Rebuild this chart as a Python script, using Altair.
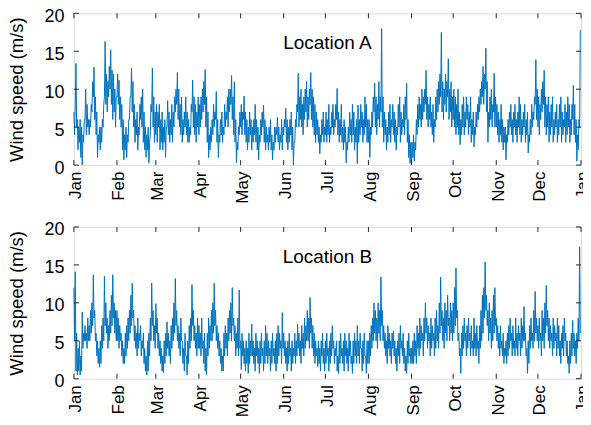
import altair as alt
import pandas as pd

# ---- Data: wind speed (m/s), two readings per day, listed month by month ----
YEAR = 2019

a_jan = [7, 4, 8, 13.4, 5, 6, 2, 5, 3, 6, 1, 5, 0, 4, 3, 6, 6, 10, 4, 8, 5, 6, 4, 6, 5, 8, 7, 11, 9, 12.9, 6, 9,
         4, 7, 1, 4, 3, 5, 2, 5, 3, 6, 5, 8, 9, 16.3, 8, 12, 7, 11, 9, 13, 10, 15.2, 8, 12.5, 6, 12, 7, 10, 5, 9]
a_feb = [9, 12, 8, 11.2, 6, 9, 5, 8, 2, 6, 0.7, 4, 2, 5, 1, 4, 3, 6, 6, 9, 9, 12.8, 7, 11, 5, 8, 3, 6,
         4, 7, 2, 5, 4, 8, 6, 9, 5, 10, 3, 7, 2, 5, 1, 4, 2, 5, 0.3, 3, 4, 8, 7, 12.8, 5, 9, 3, 7]
a_mar = [4, 8, 3, 7, 5, 8, 2, 6, 3, 7, 2, 5, 3, 6, 1, 5, 5, 8.5, 4, 7, 3, 6, 4, 8, 3, 7, 5, 9, 7, 10, 8, 12.2,
         6, 10, 5, 8, 4, 9, 3, 6, 4, 7, 5, 9, 4, 7, 3, 6, 3, 5, 4, 8, 7, 11.2, 5, 9, 4, 8, 3, 7, 5, 9]
a_apr = [4, 8, 5, 9, 6, 10, 7, 11, 8, 12.6, 5, 9, 3, 7, 1, 4, 2, 5, 3, 6, 4, 8, 5, 7, 6, 9.7, 3, 6, 1, 4,
         3, 6, 4, 7, 3, 5, 4, 8, 5, 7, 6, 9, 5, 10, 7, 10, 8, 11.8, 6, 9, 4, 11, 3, 6, 0.3, 3, 2, 5, 4, 7]
a_may = [5, 8, 4, 7, 6, 9.1, 4, 7, 3, 6, 2, 5, 3, 7, 4, 6, 2, 5, 3, 6, 4, 8, 3, 6, 2, 5, 0.7, 4, 3, 6, 4, 7,
         5, 7.9, 3, 6, 2, 5, 3, 4, 2, 5, 3, 6, 2, 4, 0.7, 3, 2, 5, 3, 5, 4, 6.3, 3, 5, 2, 4, 3, 6, 2, 5]
a_jun = [4, 6, 5, 7.5, 3, 6, 2, 5, 3, 6, 4, 7, 2, 5, 0, 3, 3, 6, 5, 8, 7, 12.1, 5, 9, 6, 10, 5, 8, 4, 9,
         6, 10, 7, 11, 5, 9, 6, 10, 8, 12.2, 6, 10, 5, 9, 4, 8, 3, 7, 4, 6, 3, 5, 1.5, 4, 3, 6, 4, 7, 3, 5]
a_jul = [4, 7, 3, 6, 4, 8, 3, 5, 4, 7, 5, 8, 4, 6, 5, 8, 6, 10.1, 4, 7, 3, 6, 4, 8, 3, 5, 2, 6, 3, 5, 0.3, 3,
         2, 5, 3, 7, 4, 6, 3, 8, 4, 7, 2, 5, 3, 6, 0.2, 7.9, 3, 6, 4, 8, 5, 7, 3, 6, 4, 9, 5, 8, 3, 6]
a_aug = [3, 6, 1, 5, 4, 7, 5, 9, 7, 10.8, 5, 9, 4, 8, 6, 11, 5, 9, 7, 18, 5, 9, 3, 7, 4, 6, 2, 5, 3, 7, 4, 8,
         3, 6, 5, 8, 4, 7, 3, 6, 2, 5, 4, 8, 5, 9, 3, 7, 4, 6, 5, 8, 4, 9, 6, 10.8, 3, 6, 1, 4, 0.2, 3]
a_sep = [0.2, 3, 1, 4, 0.5, 3, 2, 6, 4, 8, 5, 9, 6, 8, 5, 10, 6, 9, 7, 10, 8, 12.5, 6, 9, 5, 8, 6, 9, 5, 7,
         4, 8, 3, 6, 5, 9, 6, 10, 7, 11, 8, 12, 9, 17.5, 7, 11, 6, 10, 8, 12, 7, 11, 9, 14, 6, 10, 7, 11, 5, 9]
a_oct = [6, 10, 5, 9, 4, 8, 5, 10, 4, 7, 2.7, 6, 4, 8, 5, 9, 4, 7, 5, 9, 6, 8, 4, 7, 5, 9, 3, 6, 4, 7, 2.4, 5,
         4, 7, 5, 8, 6, 9, 7, 10, 8, 11, 9, 13, 8, 12, 10, 15.4, 7, 11, 3, 7, 5, 9, 6, 10, 5, 8, 7, 12.1, 5, 9]
a_nov = [5, 8, 4, 7, 3, 6, 4, 8, 3, 6, 2, 5, 3, 5, 0.7, 4, 3, 6, 4, 7, 5, 8, 4, 6, 3, 7, 5, 8, 4, 6,
         3, 7, 5, 9, 4, 8, 3, 6, 4, 7, 5, 8, 3, 6, 4, 7, 1.6, 4, 3, 6, 4, 8, 5, 7, 6, 9, 8, 13.9, 6, 10]
a_dec = [5, 9, 4, 8, 6, 10, 7, 11, 8, 12.5, 5, 9, 4, 8, 5, 9, 3, 7, 4, 8, 5, 9, 3, 6, 4, 7, 5, 8, 3, 6, 4, 8,
         5, 9, 3, 7, 4, 6, 5, 8, 3, 7, 4, 9, 5, 8, 3, 6, 4, 8, 6, 10.5, 4, 8, 3, 6, 0.5, 4, 2, 6, 5, 17.8]

b_jan = [12, 5, 14.1, 1, 6, 0.5, 4, 1, 5, 0.5, 3, 1, 8.8, 4, 6, 5, 7, 5, 6, 4, 8, 5, 7, 5, 9, 6, 10, 7,
         13.7, 8, 9, 5, 6, 3, 5, 2, 4, 1.5, 5, 2, 7, 4, 8, 5, 13.5, 7, 10, 6, 8, 4, 7, 5, 9, 6, 11, 7, 13.7, 8,
         10, 6, 9, 5]
b_feb = [9, 5, 8, 4, 7, 5, 6, 3, 5, 2, 4, 2, 6, 3, 7, 4, 8, 5, 9, 6, 11, 7, 12.6, 8, 9, 5, 7, 4,
         6, 3, 8, 4, 6, 5, 7, 3, 5, 4, 6, 2, 4, 1, 3, 0.5, 5, 1, 6, 3, 8, 5, 12.6, 7, 9, 5, 7, 4]
b_mar = [9.9, 6, 8, 4, 6, 3, 5, 2, 4, 1, 3, 0.8, 5, 2, 6, 3, 7.5, 4, 6, 3, 5, 2, 7, 4, 8, 5, 10, 6, 13.2, 7,
         9, 5, 7, 4, 6, 3, 8, 5, 5, 2, 4, 1, 6, 3, 3, 0.5, 5, 2, 7, 4, 8, 5, 12.4, 7, 9, 5, 7, 4, 6, 3, 8, 4]
b_apr = [7, 4, 6, 3, 8, 4, 5, 2, 6, 1, 4, 0.5, 6, 3, 8, 4, 7, 5, 9, 5, 10, 6, 12.6, 7, 9, 5, 7, 4, 6, 3,
         5, 2, 4, 1, 3, 1, 6, 3, 7, 4, 6, 3, 8, 5, 9, 6, 10, 5, 12, 7, 8, 5, 7, 3, 6, 4, 8, 3, 11.7, 4]
b_may = [5, 1.2, 6, 3, 5, 2, 4, 1, 5, 2, 4, 0.7, 6, 2, 5, 3, 7.2, 3, 5, 2, 4, 1, 6, 3, 5, 2, 4, 0.7, 5, 2,
         6, 3, 4, 1, 5, 2, 7, 3, 6, 2, 5, 3, 4, 1, 5, 2, 6, 3, 4, 2, 5, 1, 6, 2, 7, 3, 6, 4, 5, 2, 8.7, 4]
b_jun = [6, 3, 5, 2, 4, 1, 5, 2, 6, 3, 4, 1, 5, 2, 4, 3, 6, 2, 5, 3, 7.2, 4, 6, 3, 5, 2, 7, 4, 6, 3,
         8, 4, 7, 5, 9, 5, 8, 4, 10.7, 6, 8, 4, 7, 3, 6, 2, 5, 3, 4, 1.6, 5, 2, 4, 1, 5, 3, 6, 2, 4, 1]
b_jul = [5, 2, 6, 3, 4, 1, 5, 2, 6, 3, 7, 4, 5, 2, 4, 3, 5, 1, 3, 0.7, 5, 2, 6, 3, 4, 2, 5, 1, 6, 3, 5, 2,
         4, 1, 6, 3, 5, 2, 3, 0.7, 5, 2, 6, 3, 5, 2, 7, 3, 5, 2, 6, 4, 4, 1, 5, 2, 6, 3, 3, 0.7, 5, 2]
b_aug = [5, 2, 6, 3, 7, 4, 8, 5, 10, 6, 9, 5, 8, 4, 10, 6, 9, 5, 13.4, 7, 9, 5, 7, 4, 6, 3, 5, 2, 7, 4,
         6, 3, 5, 2, 6, 4, 6.3, 3, 5, 2, 4, 1, 5, 3, 6, 2, 7, 4, 5, 3, 6, 2, 4, 1, 3, 0.7, 5, 2, 6, 3, 4, 2]
b_sep = [4, 2, 5, 2, 6, 3, 5, 2, 7, 4, 6, 3, 8, 4, 7, 5, 6, 3, 8, 5, 10, 6, 8, 4, 7, 5, 6, 3, 8, 4,
         7, 5, 6, 3, 8, 4, 9, 5, 7, 4, 10, 6, 13.4, 7, 9, 5, 8, 4, 10, 6, 9, 5, 11, 7, 8, 5, 10, 6, 9, 5]
b_oct = [10, 6, 12, 7, 14.6, 8, 9, 5, 6, 3, 4, 0.7, 6, 3, 7, 4, 8, 5, 6, 3, 7, 4, 8, 5, 6, 3, 7, 4, 5, 3,
         8, 4, 6, 3, 7, 4, 5, 2, 7, 4, 9, 5, 11, 6, 12, 8, 15.4, 9, 11, 7, 9, 5, 10, 6, 8, 4, 9, 5, 11, 6, 12, 7]
b_nov = [8, 5, 7, 4, 6, 3, 7, 4, 5, 3, 6, 2, 4, 3, 5, 2, 6, 3, 7, 4, 8, 5, 6, 3, 7, 4, 5, 3, 8, 4,
         6, 3, 7, 5, 6, 3, 8, 4, 7, 5, 9.5, 5, 6, 3, 4, 0.7, 5, 2, 7, 4, 8, 5, 6, 4, 9, 5, 11.5, 6, 8, 5]
b_dec = [7, 4, 8, 5, 6, 3, 9, 5, 8, 4, 10, 6, 12.3, 7, 9, 5, 8, 4, 7, 5, 6, 3, 8, 4, 7, 5, 6, 3, 8, 4, 7, 3,
         5, 2, 6, 4, 7, 3, 8, 5, 6, 3, 5, 2, 3, 0.7, 5, 2, 6, 3, 7.7, 4, 6, 3, 5, 2, 6, 4, 8, 5, 17.4, 6]

loc_a = [a_jan, a_feb, a_mar, a_apr, a_may, a_jun, a_jul, a_aug, a_sep, a_oct, a_nov, a_dec]
loc_b = [b_jan, b_feb, b_mar, b_apr, b_may, b_jun, b_jul, b_aug, b_sep, b_oct, b_nov, b_dec]
y_ticks = [0, 5, 10, 15, 20]
labels = ["Location A", "Location B"]


def build_frame(months):
    rows = []
    for m, vals in enumerate(months, start=1):
        start = pd.Timestamp(YEAR, m, 1)
        end = pd.Timestamp(YEAR + 1, 1, 1) if m == 12 else pd.Timestamp(YEAR, m + 1, 1)
        span = end - start
        n = len(vals)
        for i, v in enumerate(vals):
            rows.append({"t": start + span * (i / n), "v": v})
    return pd.DataFrame(rows)


month_starts = [pd.Timestamp(YEAR, m, 1) for m in range(1, 13)] + [pd.Timestamp(YEAR + 1, 1, 1)]
x_ticks = [alt.DateTime(year=d.year, month=d.month, date=1) for d in month_starts]
xtick_df = pd.DataFrame({"t": month_starts})
ytick_df = pd.DataFrame({"v": y_ticks})

x_scale = alt.Scale(domain=[x_ticks[0], x_ticks[-1]])
y_scale = alt.Scale(domain=[0, 20], nice=False)

W, H = 508, 152
TL = 5  # inward tick length (px)
BLUE = "#0072BD"
INK = "#262626"
FONT = "Liberation Sans"

x_axis = alt.Axis(values=x_ticks, format="%b", labelAngle=270, ticks=False, domain=False,
                  grid=False, title=None, labelFontSize=17, labelPadding=6, labelOffset=2,
                  labelOverlap=False, labelFont=FONT, labelColor="#000")
y_axis = alt.Axis(values=y_ticks, ticks=False, domain=False, grid=False,
                  title="Wind speed (m/s)", titleFontSize=18.5, titleFontWeight="normal",
                  titleFont=FONT, titleColor="#000", titlePadding=17,
                  labelFontSize=18, labelFont=FONT, labelColor="#000", labelPadding=10,
                  labelOffset=3, labelOverlap=False)


def panel(df, label):
    xe = alt.X("t:T", scale=x_scale, axis=x_axis)
    ye = alt.Y("v:Q", scale=y_scale, axis=y_axis)
    line = alt.Chart(df).mark_line(color=BLUE, strokeWidth=1).encode(x=xe, y=ye)
    xt = alt.Chart(xtick_df)
    yt = alt.Chart(ytick_df)
    tick_style = dict(color=INK, strokeWidth=1)
    ticks = [
        xt.mark_rule(**tick_style).encode(x=xe, y=alt.value(H), y2=alt.value(H - TL)),
        xt.mark_rule(**tick_style).encode(x=xe, y=alt.value(0), y2=alt.value(TL)),
        yt.mark_rule(**tick_style).encode(y=ye, x=alt.value(0), x2=alt.value(TL)),
        yt.mark_rule(**tick_style).encode(y=ye, x=alt.value(W), x2=alt.value(W - TL)),
    ]
    text = alt.Chart(pd.DataFrame({"label": [label]})).mark_text(
        font=FONT, fontSize=19, color="#000", align="center", baseline="middle"
    ).encode(text="label:N", x=alt.value(254), y=alt.value(30))
    return alt.layer(line, *ticks, text).properties(width=W, height=H)


chart = alt.vconcat(
    panel(build_frame(loc_a), labels[0]),
    panel(build_frame(loc_b), labels[1]),
    spacing=16,
).properties(
    padding={"left": -1, "top": -2, "right": -9, "bottom": 0}
).configure_view(
    stroke=INK, strokeWidth=1
).configure(background="white")

chart.save("out.html", embed_options={"renderer": "svg", "actions": False})
